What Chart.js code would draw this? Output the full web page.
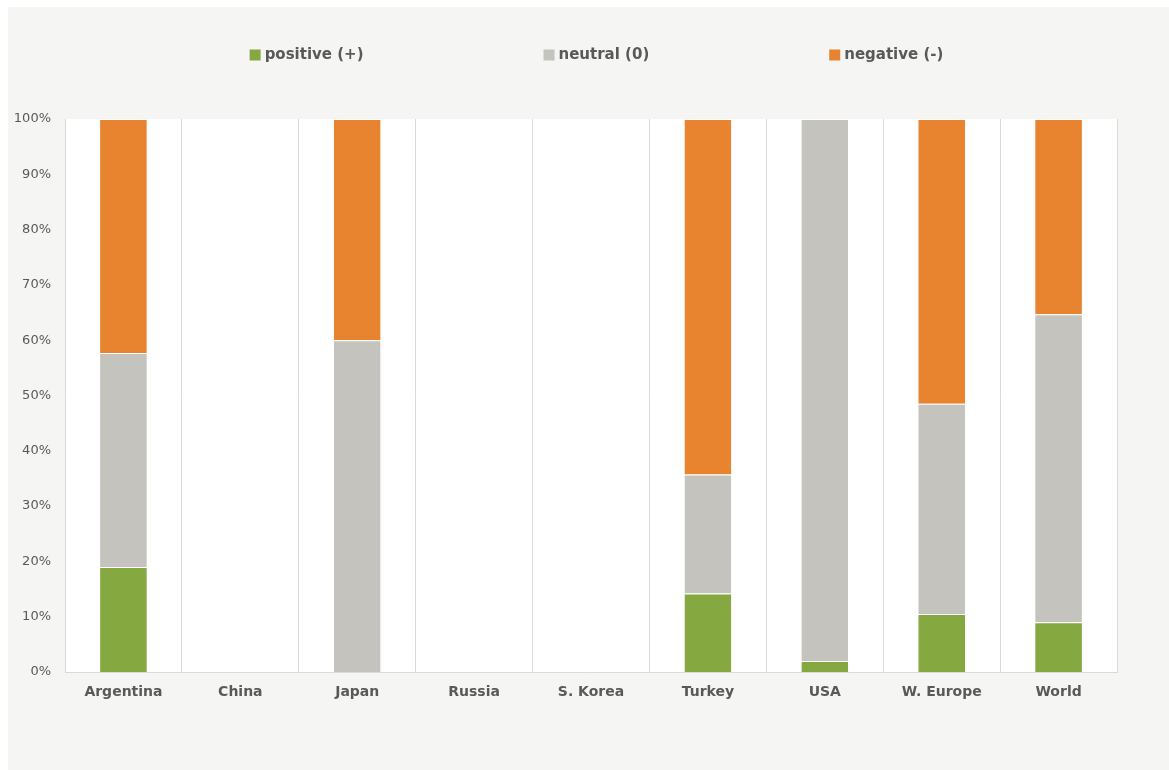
<!DOCTYPE html>
<html>
<head>
<meta charset="utf-8">
<script src="https://cdn.jsdelivr.net/npm/chart.js@4"></script>
<style>
  html, body { margin: 0; padding: 0; background: #ffffff; }
  #frame { position: absolute; left: 8px; top: 7px; width: 1161px; height: 763px; background: #f5f5f3; }
  #frame canvas { display: block; }
</style>
</head>
<body>
<div id="frame"><canvas id="sentimentChart"></canvas></div>
<script>
"use strict";

// categories and shares (percent of answers per region)
const regions = ["Argentina", "China", "Japan", "Russia", "S. Korea", "Turkey", "USA", "W. Europe", "World"];
const positive = [19.0, 0, 0, 0, 0, 14.2, 2.0, 10.5, 9.0];
const neutral = [38.7, 0, 60.0, 0, 0, 21.5, 98.0, 38.0, 55.7];
const negative = [42.3, 0, 40.0, 0, 0, 64.3, 0, 51.5, 35.3];
const seriesNames = ["positive (+)", "neutral (0)", "negative (-)"];
const seriesColors = ["#86a840", "#c4c3bd", "#e8832f"];
const yTicks = [0, 10, 20, 30, 40, 50, 60, 70, 80, 90, 100];

const textColor = "#595959";
const fontFamily = "'DejaVu Sans', sans-serif";

// white plot background
const plotBackground = {
  id: "plotBackground",
  beforeDraw(chart) {
    const {ctx, chartArea: a} = chart;
    ctx.save();
    ctx.fillStyle = "#ffffff";
    ctx.fillRect(a.left, a.top, a.right - a.left, a.bottom - a.top);
    ctx.restore();
  }
};

// wide spaced legend row above the plot
const spacedLegend = {
  id: "spacedLegend",
  afterDraw(chart) {
    const ctx = chart.ctx;
    const box = 11, gap = 4, spacing = 180, y = 48;
    ctx.save();
    ctx.font = "bold 15px " + fontFamily;
    ctx.textBaseline = "middle";
    const sets = chart.data.datasets;
    const widths = sets.map(d => box + gap + ctx.measureText(d.label).width);
    const total = widths.reduce((s, w) => s + w, 0) + spacing * (sets.length - 1);
    let x = chart.width / 2 - total / 2 + 8;
    sets.forEach((d, i) => {
      ctx.fillStyle = d.backgroundColor;
      ctx.fillRect(x, y - box / 2, box, box);
      ctx.fillStyle = textColor;
      ctx.fillText(d.label, x + box + gap, y);
      x += widths[i] + spacing;
    });
    ctx.restore();
  }
};

const info = {
  labels: regions,
  datasets: [positive, neutral, negative].map((values, i) => ({
    label: seriesNames[i],
    data: values,
    backgroundColor: seriesColors[i],
    borderColor: "#ffffff",
    borderWidth: {top: 1, bottom: 0, left: 0, right: 0},
    borderSkipped: false,
    barPercentage: 0.4,
    categoryPercentage: 1.0
  }))
};

const config = {
  type: "bar",
  data: info,
  plugins: [plotBackground, spacedLegend],
  options: {
    responsive: false,
    animation: false,
    layout: { padding: { top: 112, right: 52, left: 0, bottom: 0 } },
    plugins: {
      legend: { display: false },
      tooltip: { enabled: false }
    },
    scales: {
      x: {
        stacked: true,
        grid: { color: "#d9d9d9", lineWidth: 1, offset: true, drawTicks: false },
        border: { color: "#d9d9d9" },
        ticks: { color: textColor, padding: 12, font: { family: fontFamily, size: 14, weight: "bold" } },
        afterFit: s => { s.height = 98; }
      },
      y: {
        stacked: true,
        min: 0,
        max: 100,
        afterBuildTicks: s => { s.ticks = yTicks.map(v => ({value: v})); },
        grid: { display: false, drawTicks: false },
        border: { display: false },
        ticks: {
          color: textColor,
          padding: 14,
          font: { family: fontFamily, size: 13 },
          callback: v => v + "%"
        },
        afterFit: s => { s.width = 57; }
      }
    }
  }
};

const canvas = document.getElementById("sentimentChart");
canvas.width = 1161;
canvas.height = 763;
const sentimentChart = new Chart(canvas.getContext("2d"), config);
</script>
</body>
</html>
